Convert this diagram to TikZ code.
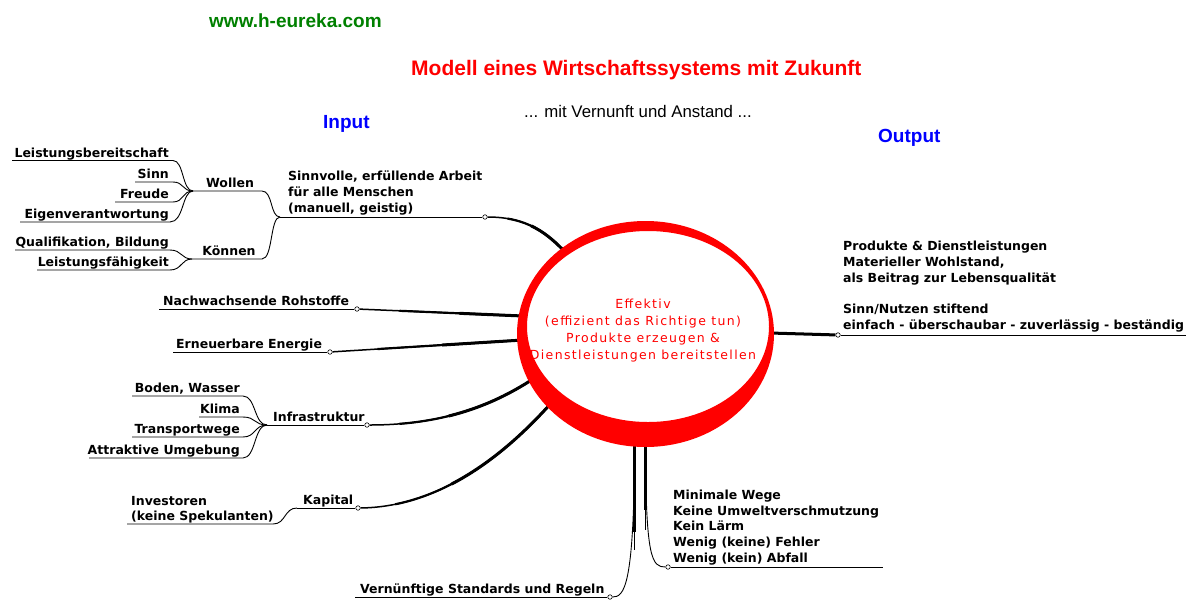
\documentclass[tikz,border=0pt]{standalone}
\usepackage{fontspec}
\setmainfont{Liberation Sans}
\newfontfamily\lblfont{DejaVu Sans}
\newfontfamily\ctrfont{DejaVu Sans}[LetterSpace=11]
\newfontfamily\headfont{Liberation Sans}
\definecolor{urlgreen}{RGB}{0,128,0}
\definecolor{mmred}{RGB}{255,0,0}
\definecolor{mmblue}{RGB}{0,0,255}
\tikzset{
  lbl/.style={font=\lblfont\bfseries\fontsize{12.5}{15.8}\selectfont, inner sep=0pt, align=left, text=black},
  ctr/.style={font=\ctrfont\fontsize{12.5}{17}\selectfont, inner sep=0pt, align=center, text=mmred},
  hdbig/.style={font=\headfont\bfseries\fontsize{21}{24}\selectfont, inner sep=0pt},
  hdmid/.style={font=\headfont\bfseries\fontsize{19}{22}\selectfont, inner sep=0pt},
  hdsub/.style={font=\headfont\fontsize{16.8}{20}\selectfont, inner sep=0pt},
  thinl/.style={line width=0.9pt},
  midl/.style={line width=1.5pt},
  fatl/.style={line width=3pt},
  medfrom/.style={line width=2.2pt, dash pattern={on 0pt off #1 on 3000pt}},
  fatfrom/.style={line width=3pt, dash pattern={on 0pt off #1 on 3000pt}},
  knob/.style={circle, draw, fill=white, inner sep=0pt, minimum size=4.5pt, line width=0.6pt}
}
\begin{document}
\begin{tikzpicture}[x=1pt,y=-1pt]
\fill[white] (0,0) rectangle (1196,611);
\useasboundingbox (0,0) rectangle (1196,611);

% ---------- header ----------
\node[hdmid, text=urlgreen, anchor=base west] (url) at (209,27) {www.h-eureka.com};
\node[hdbig, text=mmred, anchor=base west] (title) at (411,75) {Modell eines Wirtschaftssystems mit Zukunft};
\node[hdsub, anchor=base west] (sub) at (524,117) {... mit Vernunft und Anstand ...};
\node[hdmid, text=mmblue, anchor=base west] (inp) at (323,128) {Input};
\node[hdmid, text=mmblue, anchor=base west] (outp) at (878,142) {Output};

% ---------- centre (base = last line) ----------
\node[ctr, anchor=base] (core) at (643,359.3) {Effektiv\\(effizient das Richtige tun)\\Produkte erzeugen \&\\Dienstleistungen bereitstellen};

% ---------- coordinates ----------
\coordinate (a1s) at (12,160.5);  \coordinate (a1e) at (173,160.5);
\coordinate (a2s) at (135,182);   \coordinate (a2e) at (173,182);
\coordinate (a3s) at (115,202);   \coordinate (a3e) at (173,202);
\coordinate (a4s) at (20,222);    \coordinate (a4e) at (170,222);
\coordinate (b1s) at (15,250);    \coordinate (b1e) at (170,250);
\coordinate (b2s) at (37,270);    \coordinate (b2e) at (170,270);
\coordinate (hW) at (193,191);    \coordinate (hWe) at (262,191);
\coordinate (hK) at (192,259);    \coordinate (hKe) at (262,259);
\coordinate (jS) at (280,217);
\coordinate (n2s) at (159,309);
\coordinate (n3s) at (173,352);
\coordinate (c1s) at (132,396);   \coordinate (c1e) at (243,396);
\coordinate (c2s) at (199,417);   \coordinate (c2e) at (243,417);
\coordinate (c3s) at (132,437);   \coordinate (c3e) at (243,437);
\coordinate (c4s) at (89,458);    \coordinate (c4e) at (243,458);
\coordinate (hI) at (267,425);
\coordinate (d1s) at (127,524);   \coordinate (d1e) at (273,524);
\coordinate (hC) at (297,508);
\coordinate (v7s) at (355,597);
\coordinate (r8e) at (883,567);
\coordinate (o6e) at (1186,335);
\coordinate (t7) at (634.5,515);
\coordinate (t8) at (645.5,490);
\coordinate (e1) at (566,253);
\coordinate (e2) at (523,316);
\coordinate (e3) at (523,340);
\coordinate (e4) at (533,379);
\coordinate (e5) at (553,401);
\coordinate (e6) at (770,333);
\coordinate (e7) at (634.5,440);
\coordinate (e8) at (645.5,440);

% knobs
\node[knob] (k1) at (485,217) {};
\node[knob] (k2) at (357,309) {};
\node[knob] (k3) at (330,352) {};
\node[knob] (k4) at (367,425) {};
\node[knob] (k5) at (358,508) {};
\node[knob] (k6) at (838,335) {};
\node[knob] (k7) at (610,597) {};
\node[knob] (k8) at (668,567) {};

% ---------- labels ----------
\node[lbl, anchor=base east] (tA1) at (169,157) {Leistungsbereitschaft};
\node[lbl, anchor=base east] (tA2) at (169,178.5) {Sinn};
\node[lbl, anchor=base east] (tA3) at (169,198.5) {Freude};
\node[lbl, anchor=base east] (tA4) at (169,218.5) {Eigenverantwortung};
\node[lbl, anchor=base east] (tB1) at (169,246.5) {Qualifikation, Bildung};
\node[lbl, anchor=base east] (tB2) at (169,266.5) {Leistungsfähigkeit};
\node[lbl, anchor=base] (tW) at (230,187.5) {Wollen};
\node[lbl, anchor=base] (tK) at (229,255.5) {Können};
\node[lbl, anchor=base west] (tS) at (288,212.1) {Sinnvolle, erfüllende Arbeit\\für alle Menschen\\(manuell, geistig)};
\node[lbl, anchor=base west] (tN) at (163,305.5) {Nachwachsende Rohstoffe};
\node[lbl, anchor=base west] (tE) at (176,348.5) {Erneuerbare Energie};
\node[lbl, anchor=base east] (tC1) at (240,392.5) {Boden, Wasser};
\node[lbl, anchor=base east] (tC2) at (240,413.5) {Klima};
\node[lbl, anchor=base east] (tC3) at (240,433.5) {Transportwege};
\node[lbl, anchor=base east] (tC4) at (240,454.5) {Attraktive Umgebung};
\node[lbl, anchor=base west] (tI) at (273,421.5) {Infrastruktur};
\node[lbl, anchor=base west] (tKap) at (303,504.5) {Kapital};
\node[lbl, anchor=base west] (tInv) at (131,520.8) {Investoren\\(keine Spekulanten)};
\node[lbl, anchor=base west] (tV) at (360,593.5) {Vernünftige Standards und Regeln};
\node[lbl, anchor=base west] (tR) at (673,562.5) {Minimale Wege\\Keine Umweltverschmutzung\\Kein Lärm\\Wenig (keine) Fehler\\Wenig (kein) Abfall};
\node[lbl, anchor=base west] (tO) at (843,329.7) {Produkte \& Dienstleistungen\\Materieller Wohlstand,\\als Beitrag zur Lebensqualität\\[15.8pt]Sinn/Nutzen stiftend\\einfach - überschaubar - zuverlässig - beständig};

% ---------- thin branches ----------
\draw[thinl] (a1s) -- (a1e) .. controls (184,160.5) and (182,191) .. (hW);
\draw[thinl] (a2s) -- (a2e) .. controls (184,182) and (182,191) .. (hW);
\draw[thinl] (a3s) -- (a3e) .. controls (184,202) and (182,191) .. (hW);
\draw[thinl] (a4s) -- (a4e) .. controls (184,222) and (182,191) .. (hW);
\draw[thinl] (b1s) -- (b1e) .. controls (182,250) and (181,259) .. (hK);
\draw[thinl] (b2s) -- (b2e) .. controls (182,270) and (181,259) .. (hK);
\draw[thinl] (hW) -- (hWe) .. controls (273,191) and (270,217) .. (jS);
\draw[thinl] (hK) -- (hKe) .. controls (273,259) and (270,217) .. (jS);
\draw[thinl] (jS) -- (k1);
\draw[thinl] (n2s) -- (k2);
\draw[thinl] (n3s) -- (k3);
\draw[thinl] (c1s) -- (c1e) .. controls (256,396) and (254,425) .. (hI);
\draw[thinl] (c2s) -- (c2e) .. controls (256,417) and (254,425) .. (hI);
\draw[thinl] (c3s) -- (c3e) .. controls (256,437) and (254,425) .. (hI);
\draw[thinl] (c4s) -- (c4e) .. controls (256,458) and (254,425) .. (hI);
\draw[thinl] (hI) -- (k4);
\draw[thinl] (d1s) -- (d1e) .. controls (286,524) and (284,508) .. (hC);
\draw[thinl] (hC) -- (k5);
\draw[thinl] (k6) -- (o6e);
\draw[thinl] (v7s) -- (k7);
\draw[thinl] (k8) -- (r8e);

% ---------- main connectors (tapered) ----------
\draw[midl] (k1) .. controls (528,217) and (548,234) .. (e1);
\draw[medfrom=20pt] (k1) .. controls (528,217) and (548,234) .. (e1);
\draw[fatfrom=45pt] (k1) .. controls (528,217) and (548,234) .. (e1);
\draw[midl] (k2) -- (e2);
\draw[medfrom=40pt] (k2) -- (e2);
\draw[fatfrom=100pt] (k2) -- (e2);
\draw[midl] (k3) -- (e3);
\draw[medfrom=45pt] (k3) -- (e3);
\draw[fatfrom=110pt] (k3) -- (e3);
\draw[midl] (k4) .. controls (440,425) and (490,407) .. (e4);
\draw[medfrom=30pt] (k4) .. controls (440,425) and (490,407) .. (e4);
\draw[fatfrom=80pt] (k4) .. controls (440,425) and (490,407) .. (e4);
\draw[midl] (k5) .. controls (440,507) and (505,455) .. (e5);
\draw[medfrom=35pt] (k5) .. controls (440,507) and (505,455) .. (e5);
\draw[fatfrom=95pt] (k5) .. controls (440,507) and (505,455) .. (e5);
\draw[fatl] (e6) -- (k6);
\draw[thinl] (e7) .. controls (634.5,588) and (624,597) .. (k7);
\draw[midl] (e7) -- (634.5,550);
\draw[line width=2.2pt] (e7) -- (634.5,532);
\draw[fatl] (e7) -- (t7);
\draw[thinl] (e8) .. controls (645.5,560) and (652,567) .. (k8);
\draw[midl] (e8) -- (645.5,530);
\draw[line width=2.2pt] (e8) -- (645.5,510);
\draw[fatl] (e8) -- (t8);

% ---------- red ring ----------
\fill[mmred, even odd rule] (645.5,334) ellipse [x radius=128.5pt, y radius=113pt]
                            (648,326.5) ellipse [x radius=121pt, y radius=95.5pt];
\end{tikzpicture}
\end{document}
